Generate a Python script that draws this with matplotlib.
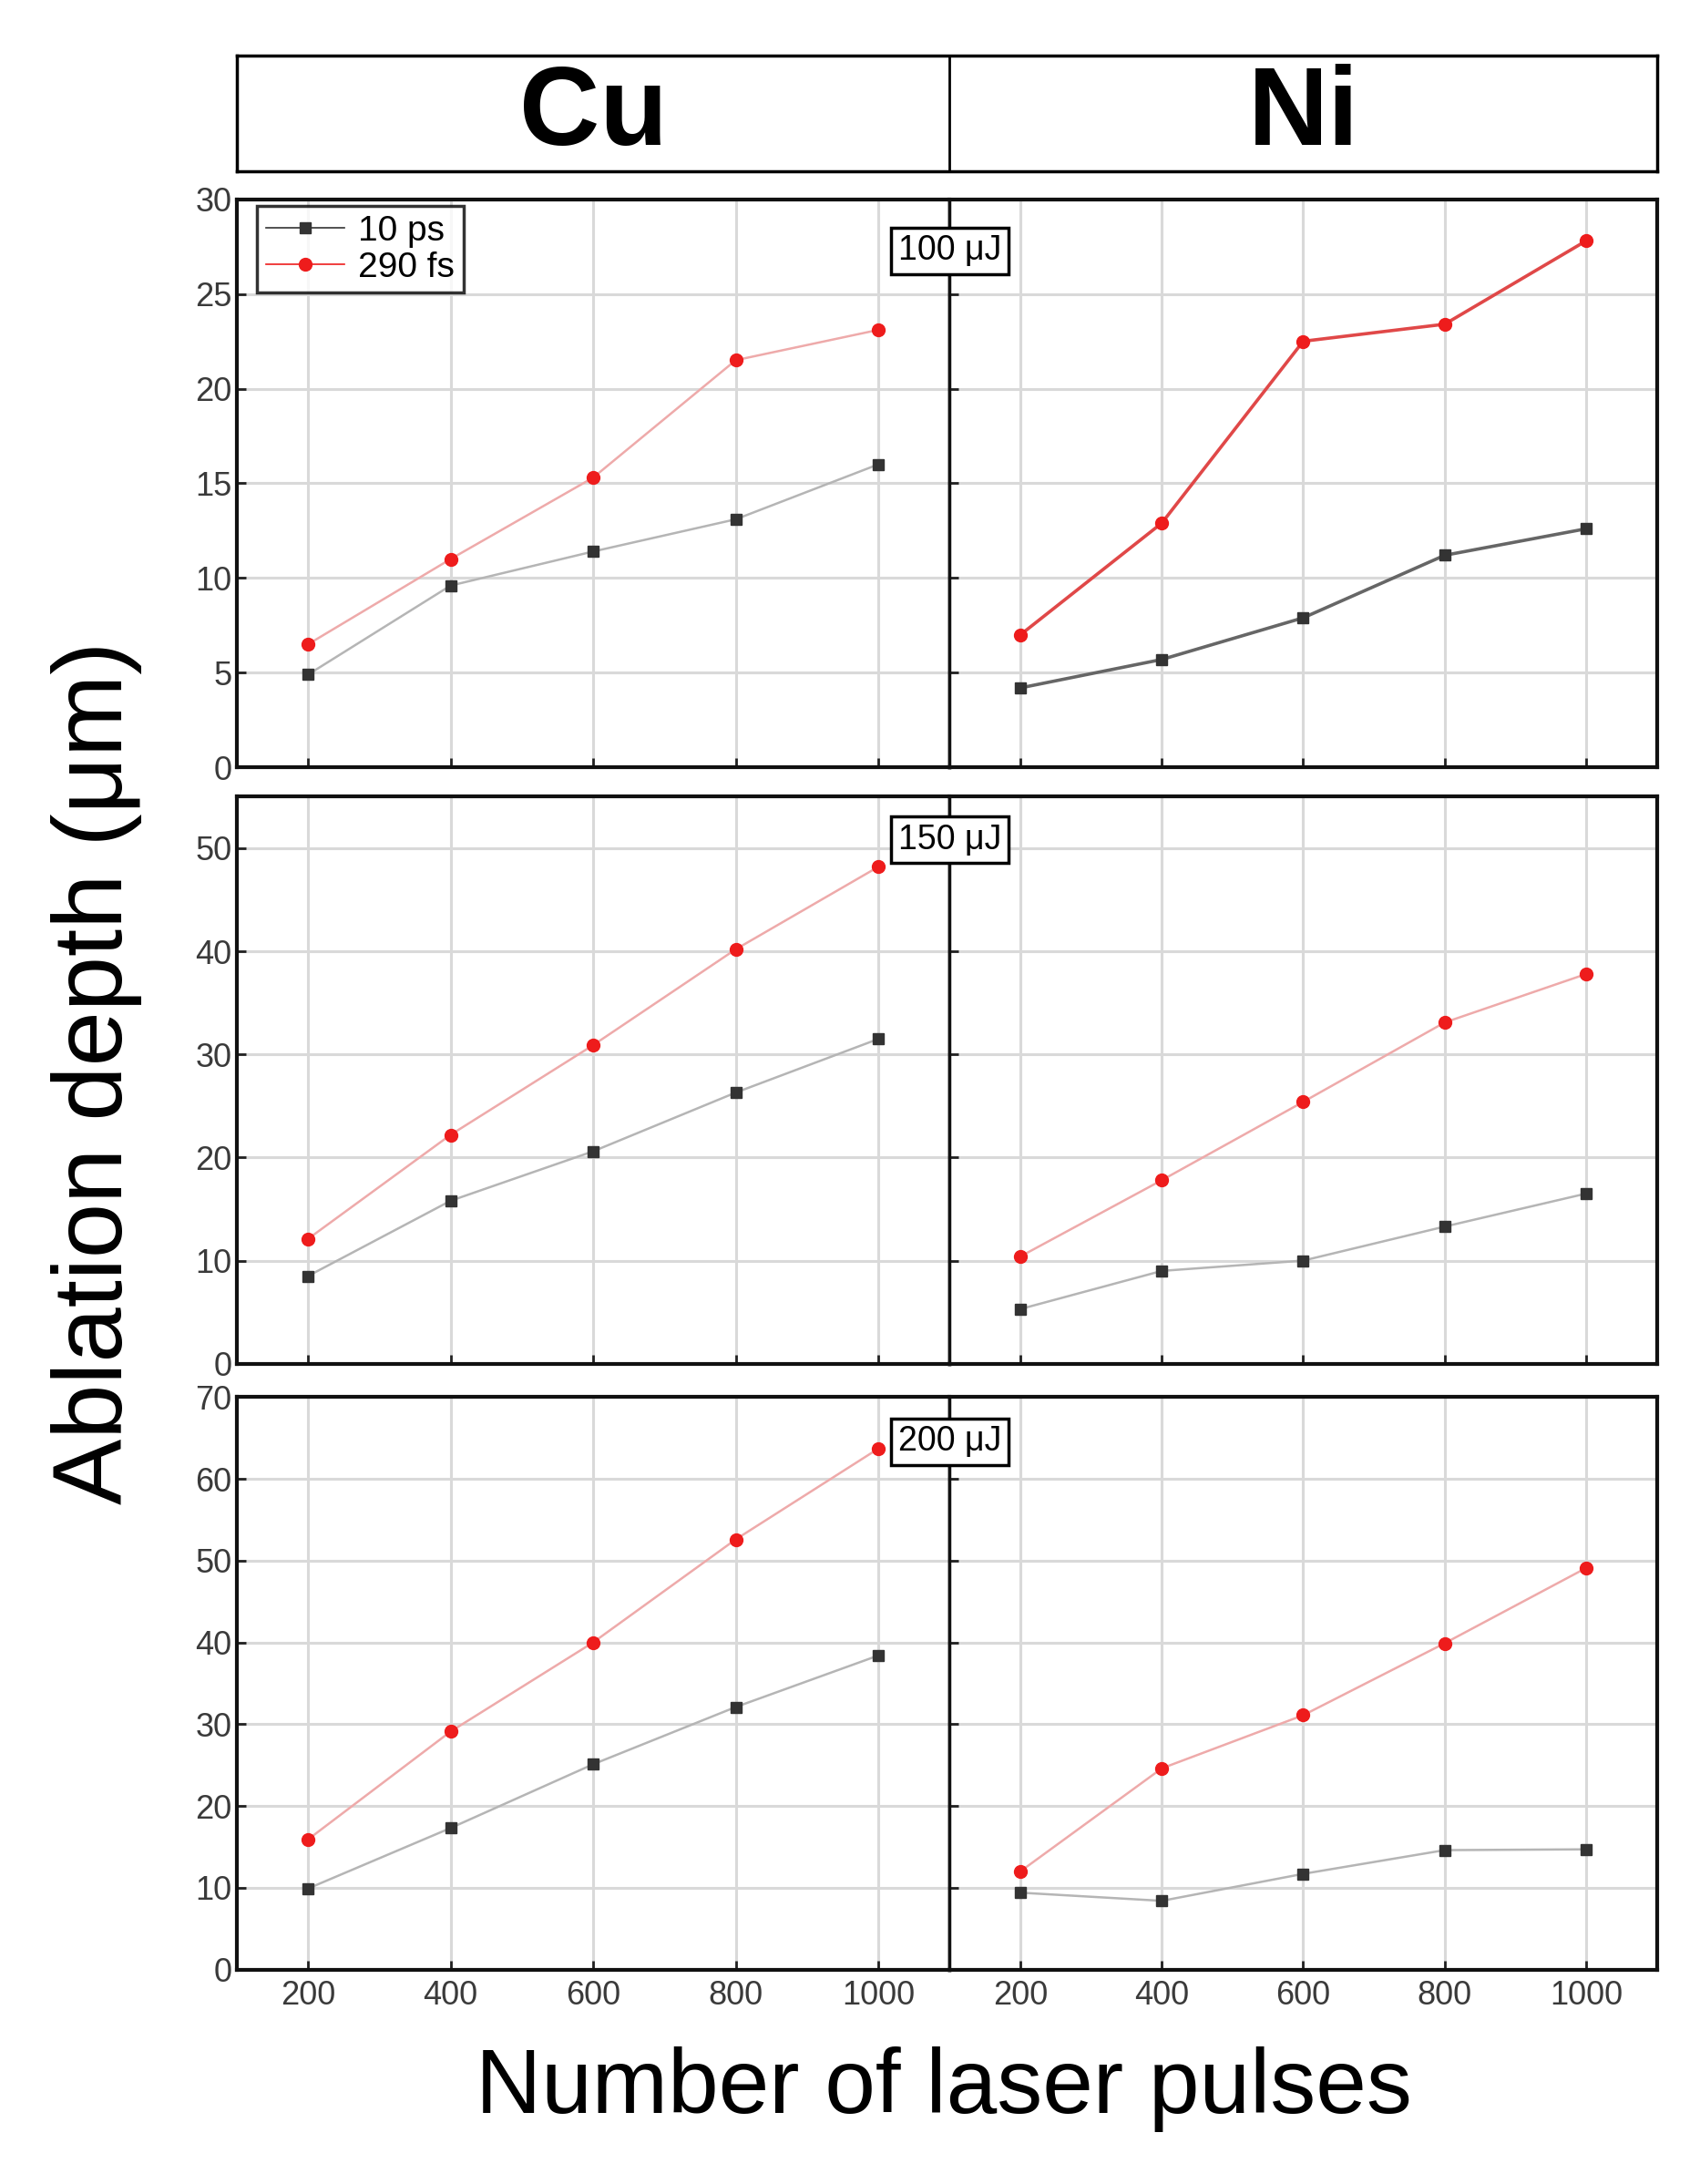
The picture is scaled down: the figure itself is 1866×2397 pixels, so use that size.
"""
Ablation depth vs. number of laser pulses for Cu and Ni,
10 ps vs 290 fs pulses at three pulse energies.

Output:
    out.png
"""

import matplotlib.pyplot as plt

plt.rcParams["font.family"] = ["Liberation Sans", "DejaVu Sans"]

PULSES = [200, 400, 600, 800, 1000]
MATERIALS = ["Cu", "Ni"]
ENERGY_LABELS = ["100 \u03bcJ", "150 \u03bcJ", "200 \u03bcJ"]
Y_LIMITS = [30, 55, 70]
Y_TICKS = [
    [0, 5, 10, 15, 20, 25, 30],
    [0, 10, 20, 30, 40, 50],
    [0, 10, 20, 30, 40, 50, 60, 70],
]

# ablation depth in um
CU_10PS = [
    [4.9, 9.6, 11.4, 13.1, 16.0],
    [8.5, 15.8, 20.6, 26.3, 31.5],
    [9.9, 17.3, 25.1, 32.1, 38.4],
]
CU_290FS = [
    [6.5, 11.0, 15.3, 21.5, 23.1],
    [12.1, 22.2, 30.9, 40.2, 48.2],
    [15.9, 29.1, 40.0, 52.6, 63.7],
]
NI_10PS = [
    [4.2, 5.7, 7.9, 11.2, 12.6],
    [5.3, 9.0, 10.0, 13.3, 16.5],
    [9.4, 8.4, 11.7, 14.6, 14.7],
]
NI_290FS = [
    [7.0, 12.9, 22.5, 23.4, 27.8],
    [10.4, 17.8, 25.4, 33.1, 37.8],
    [12.0, 24.6, 31.1, 39.9, 49.1],
]

LEFT, DIVIDER, RIGHT = 0.1392, 0.5586, 0.9746
ROWS = [(0.6486, 0.9088), (0.3756, 0.6352), (0.0982, 0.3603)]
LABEL_Y = [0.909, 0.924, 0.922]

GRID_COLOR = "#d9d9d9"
TICK_COLOR = "#3a3a3a"


def style_axes(ax, ymax, yticks, show_ylabels, show_xlabels):
    ax.set_xlim(100, 1100)
    ax.set_ylim(0, ymax)
    ax.set_xticks(PULSES)
    ax.set_yticks(yticks)
    ax.grid(True, color=GRID_COLOR, linewidth=2.2)
    ax.set_axisbelow(True)
    ax.tick_params(direction="in", length=7, width=2, colors="#222222",
                   labelsize=26, labelcolor=TICK_COLOR, pad=8)
    ax.tick_params(axis="y", labelleft=show_ylabels, pad=4)
    ax.tick_params(axis="x", labelbottom=show_xlabels)
    for spine in ax.spines.values():
        spine.set_linewidth(3)
        spine.set_color("#111111")


def plot_series(ax, ps, fs, strong):
    ps_line = "#666666" if strong else "#b5b5b5"
    fs_line = "#e04848" if strong else "#eeaaaa"
    lw = 2.6 if strong else 1.8
    ax.plot(PULSES, ps, color=ps_line, linewidth=lw, zorder=2)
    ax.plot(PULSES, ps, linestyle="none", marker="s", markersize=9,
            color="#333333", zorder=3, label="10 ps")
    ax.plot(PULSES, fs, color=fs_line, linewidth=lw, zorder=2)
    ax.plot(PULSES, fs, linestyle="none", marker="o", markersize=10,
            color="#ee1c1c", zorder=3, label="290 fs")


def main():
    fig = plt.figure(figsize=(18.66, 23.97), dpi=100)

    # header with material names
    header = fig.add_axes([LEFT, 0.9216, RIGHT - LEFT, 0.9745 - 0.9216])
    header.set_xticks([])
    header.set_yticks([])
    header.set_xlim(0, 1)
    header.set_ylim(0, 1)
    for spine in header.spines.values():
        spine.set_linewidth(2.5)
    split = (DIVIDER - LEFT) / (RIGHT - LEFT)
    header.axvline(split, color="black", linewidth=2)
    header.text(split / 2, 0.48, MATERIALS[0], ha="center", va="center",
                fontsize=88, fontweight="bold")
    header.text((1 + split) / 2, 0.48, MATERIALS[1], ha="center", va="center",
                fontsize=88, fontweight="bold")

    for row, (bottom, top) in enumerate(ROWS):
        height = top - bottom
        last = row == len(ROWS) - 1
        ax_cu = fig.add_axes([LEFT, bottom, DIVIDER - LEFT, height])
        ax_ni = fig.add_axes([DIVIDER, bottom, RIGHT - DIVIDER, height])

        style_axes(ax_cu, Y_LIMITS[row], Y_TICKS[row], True, last)
        style_axes(ax_ni, Y_LIMITS[row], Y_TICKS[row], False, last)
        ax_cu.spines["right"].set_linewidth(2.5)
        ax_ni.spines["left"].set_linewidth(2.5)

        plot_series(ax_cu, CU_10PS[row], CU_290FS[row], strong=False)
        plot_series(ax_ni, NI_10PS[row], NI_290FS[row], strong=(row == 0))

        fig.text(DIVIDER, bottom + LABEL_Y[row] * height, ENERGY_LABELS[row],
                 ha="center", va="center", fontsize=27,
                 bbox=dict(boxstyle="square,pad=0.2", facecolor="white",
                           edgecolor="black", linewidth=2.5),
                 zorder=10)

        if row == 0:
            legend = ax_cu.legend(loc="upper left", bbox_to_anchor=(0.029, 0.988),
                                  fontsize=28, frameon=True, fancybox=False,
                                  edgecolor="black", handlelength=2.2,
                                  borderpad=0.25, labelspacing=0.1,
                                  handletextpad=0.4, borderaxespad=0)
            legend.get_frame().set_linewidth(2.5)
            # put the connecting line through the legend markers
            ps_handle, fs_handle = legend.legend_handles
            ps_handle.set_linestyle("-")
            ps_handle.set_color("#333333")
            ps_handle.set_linewidth(1.2)
            fs_handle.set_linestyle("-")
            fs_handle.set_linewidth(1.2)
            fs_handle.set_color("#ee1c1c")

    fig.text(0.555, 0.0434, "Number of laser pulses", ha="center", va="center",
             fontsize=72)
    fig.text(0.057, 0.509, "Ablation depth (\u03bcm)", ha="center", va="center",
             rotation=90, fontsize=78)

    fig.savefig("out.png", dpi=100)
    plt.close(fig)


if __name__ == "__main__":
    main()
